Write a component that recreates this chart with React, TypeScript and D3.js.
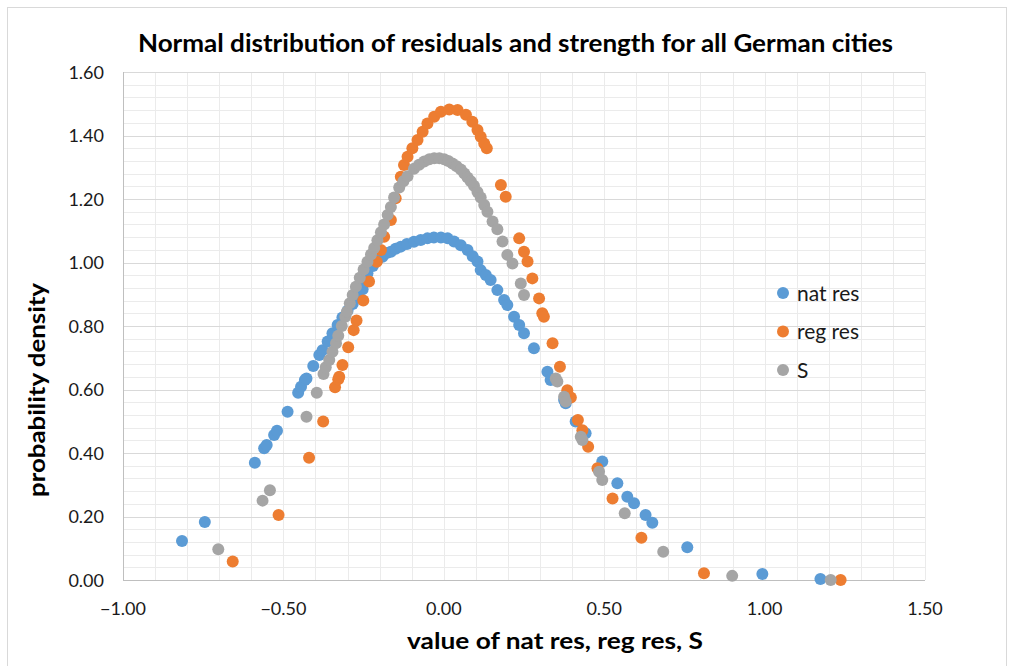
import React, { useEffect, useRef } from "react";
import * as d3 from "d3";

const chartTitle = "Normal distribution of residuals and strength for all German cities";
const xAxisTitle = "value of nat res, reg res, S";
const yAxisTitle = "probability density";

const seriesNames = ["nat res", "reg res", "S"];
const seriesColors = ["#5B9BD5", "#ED7D31", "#A5A5A5"];

const xTicks = [-1, -0.5, 0, 0.5, 1, 1.5];
const yTicks = [0, 0.2, 0.4, 0.6, 0.8, 1.0, 1.2, 1.4, 1.6];

const natResX = [-0.816, -0.745, -0.589, -0.560, -0.552, -0.529, -0.520, -0.487, -0.454, -0.445,
  -0.433, -0.428, -0.407, -0.388, -0.378, -0.362, -0.347, -0.331, -0.316, -0.300,
  -0.284, -0.269, -0.253, -0.246, -0.238, -0.221, -0.207, -0.191, -0.178, -0.165,
  -0.150, -0.134, -0.115, -0.093, -0.072, -0.051, -0.031, -0.009, 0.012, 0.032,
  0.053, 0.074, 0.090, 0.105, 0.115, 0.131, 0.146, 0.167, 0.188, 0.198,
  0.219, 0.235, 0.250, 0.281, 0.323, 0.333, 0.375, 0.380, 0.411, 0.442,
  0.494, 0.541, 0.572, 0.593, 0.629, 0.650, 0.759, 0.993, 1.174];
const natResY = [0.123, 0.183, 0.369, 0.415, 0.425, 0.457, 0.470, 0.530, 0.590, 0.609,
  0.630, 0.635, 0.674, 0.709, 0.724, 0.751, 0.777, 0.803, 0.827, 0.848,
  0.869, 0.892, 0.916, 0.939, 0.966, 0.989, 1.008, 1.018, 1.030, 1.034,
  1.043, 1.050, 1.058, 1.065, 1.071, 1.076, 1.079, 1.079, 1.076, 1.066,
  1.054, 1.039, 1.020, 1.003, 0.976, 0.961, 0.945, 0.913, 0.882, 0.866,
  0.829, 0.803, 0.777, 0.730, 0.656, 0.630, 0.567, 0.557, 0.499, 0.462,
  0.373, 0.305, 0.262, 0.242, 0.205, 0.180, 0.103, 0.019, 0.003];

const regResX = [-0.658, -0.515, -0.420, -0.376, -0.339, -0.329, -0.326, -0.316, -0.298, -0.281,
  -0.272, -0.251, -0.233, -0.209, -0.196, -0.186, -0.165, -0.150, -0.134, -0.124,
  -0.113, -0.098, -0.082, -0.066, -0.051, -0.030, -0.009, 0.017, 0.043, 0.069,
  0.089, 0.105, 0.115, 0.126, 0.134, 0.178, 0.193, 0.235, 0.250, 0.261,
  0.276, 0.297, 0.307, 0.312, 0.339, 0.362, 0.385, 0.396, 0.418, 0.432,
  0.450, 0.479, 0.526, 0.616, 0.811, 1.237];
const regResY = [0.058, 0.205, 0.385, 0.499, 0.607, 0.632, 0.640, 0.677, 0.733, 0.787,
  0.817, 0.880, 0.940, 1.002, 1.039, 1.081, 1.134, 1.202, 1.270, 1.307,
  1.333, 1.360, 1.386, 1.412, 1.438, 1.459, 1.475, 1.482, 1.480, 1.465,
  1.443, 1.417, 1.396, 1.375, 1.360, 1.244, 1.207, 1.076, 1.034, 1.003,
  0.950, 0.887, 0.840, 0.829, 0.746, 0.672, 0.598, 0.575, 0.504, 0.472,
  0.420, 0.352, 0.257, 0.133, 0.021, 0.000];

const sX = [-0.703, -0.565, -0.542, -0.428, -0.396, -0.375, -0.368, -0.357, -0.347, -0.336,
  -0.329, -0.318, -0.307, -0.302, -0.293, -0.284, -0.274, -0.262, -0.250, -0.238,
  -0.227, -0.217, -0.207, -0.196, -0.186, -0.175, -0.165, -0.155, -0.139, -0.126,
  -0.113, -0.093, -0.077, -0.061, -0.045, -0.030, -0.014, 0.001, 0.014, 0.027,
  0.040, 0.053, 0.064, 0.074, 0.084, 0.094, 0.105, 0.115, 0.126, 0.136,
  0.152, 0.167, 0.183, 0.198, 0.214, 0.240, 0.250, 0.349, 0.354, 0.375,
  0.380, 0.427, 0.432, 0.484, 0.494, 0.564, 0.684, 0.899, 1.206];
const sY = [0.097, 0.250, 0.283, 0.514, 0.590, 0.649, 0.670, 0.693, 0.719, 0.746,
  0.769, 0.800, 0.829, 0.845, 0.872, 0.898, 0.924, 0.952, 0.978, 1.002,
  1.025, 1.046, 1.070, 1.095, 1.120, 1.150, 1.175, 1.205, 1.236, 1.256,
  1.272, 1.295, 1.308, 1.318, 1.325, 1.328, 1.328, 1.325, 1.320, 1.312,
  1.303, 1.293, 1.280, 1.268, 1.256, 1.242, 1.222, 1.205, 1.181, 1.160,
  1.129, 1.105, 1.066, 1.024, 0.997, 0.934, 0.898, 0.635, 0.625, 0.577,
  0.562, 0.451, 0.441, 0.341, 0.315, 0.210, 0.089, 0.013, 0.000];

const FONT = "Lato, 'Open Sans', sans-serif";

export default function App() {
  const ref = useRef<SVGSVGElement>(null);

  useEffect(() => {
    const svg = d3.select(ref.current);
    svg.selectAll("*").remove();

    const W = 1014, H = 666;
    const left = 123, right = 925, top = 72, bottom = 580;
    const x = d3.scaleLinear().domain([-1, 1.5]).range([left, right]);
    const y = d3.scaleLinear().domain([0, 1.6]).range([bottom, top]);
    const px = (v: number) => Math.round(v) + 0.5;

    svg.append("rect").attr("width", W).attr("height", H).attr("fill", "#ffffff");
    svg.append("rect").attr("x", 7.5).attr("y", 7.5).attr("width", 999).attr("height", 700)
      .attr("fill", "none").attr("stroke", "#d9d9d9").attr("stroke-width", 1);

    const grid = svg.append("g");
    // minor vertical gridlines every 0.1
    const xMinor = d3.range(0, 26).map((i) => -1 + i * 0.1);
    grid.selectAll("line.vx").data(xMinor).enter().append("line")
      .attr("x1", (d) => px(x(d))).attr("x2", (d) => px(x(d)))
      .attr("y1", top).attr("y2", bottom)
      .attr("stroke", "#ebebeb").attr("stroke-width", 1);
    // minor horizontal gridlines every 0.04
    const yMinor = d3.range(0, 41).map((i) => i * 0.04);
    grid.selectAll("line.hy").data(yMinor).enter().append("line")
      .attr("x1", left).attr("x2", right)
      .attr("y1", (d) => px(y(d))).attr("y2", (d) => px(y(d)))
      .attr("stroke", "#ebebeb").attr("stroke-width", 1);
    // major horizontal gridlines
    grid.selectAll("line.hmaj").data(yTicks).enter().append("line")
      .attr("x1", left).attr("x2", right)
      .attr("y1", (d) => px(y(d))).attr("y2", (d) => px(y(d)))
      .attr("stroke", "#d9d9d9").attr("stroke-width", 1);

    // axis lines
    svg.append("line").attr("x1", px(left)).attr("x2", px(left)).attr("y1", top).attr("y2", px(bottom))
      .attr("stroke", "#bfbfbf");
    svg.append("line").attr("x1", left).attr("x2", right).attr("y1", px(bottom)).attr("y2", px(bottom))
      .attr("stroke", "#bfbfbf");

    // tick labels
    svg.append("g").selectAll("text").data(yTicks).enter().append("text")
      .attr("x", 104).attr("y", (d) => y(d) + 6.5)
      .attr("text-anchor", "end")
      .attr("font-family", FONT).attr("font-size", 18).attr("fill", "#1a1a1a")
      .text((d) => d3.format(".2f")(d));
    svg.append("g").selectAll("text").data(xTicks).enter().append("text")
      .attr("x", (d) => x(d)).attr("y", 615)
      .attr("text-anchor", "middle")
      .attr("font-family", FONT).attr("font-size", 18).attr("fill", "#1a1a1a")
      .text((d) => d3.format(".2f")(d));

    // series
    const series = [
      d3.zip(natResX, natResY),
      d3.zip(regResX, regResY),
      d3.zip(sX, sY),
    ];
    series.forEach((pts, i) => {
      svg.append("g").selectAll("circle").data(pts).enter().append("circle")
        .attr("cx", (d) => x(d[0])).attr("cy", (d) => y(d[1]))
        .attr("r", 6).attr("fill", seriesColors[i]);
    });

    // legend
    const lg = svg.append("g");
    seriesNames.forEach((name, i) => {
      const cy = 293 + i * 38.5;
      lg.append("circle").attr("cx", 783).attr("cy", cy).attr("r", 6).attr("fill", seriesColors[i]);
      lg.append("text").attr("x", 797).attr("y", cy + 7.5)
        .attr("font-family", FONT).attr("font-size", 21).attr("fill", "#1a1a1a")
        .text(name);
    });

    // titles
    svg.append("text").attr("x", 515.5).attr("y", 52).attr("text-anchor", "middle")
      .attr("font-family", FONT).attr("font-weight", "bold").attr("font-size", 24)
      .attr("textLength", 755).attr("lengthAdjust", "spacingAndGlyphs")
      .attr("fill", "#000").text(chartTitle);
    svg.append("text").attr("x", 555).attr("y", 649).attr("text-anchor", "middle")
      .attr("font-family", FONT).attr("font-weight", "bold").attr("font-size", 22)
      .attr("textLength", 296).attr("lengthAdjust", "spacingAndGlyphs")
      .attr("fill", "#000").text(xAxisTitle);
    svg.append("text").attr("transform", "translate(45,390) rotate(-90)")
      .attr("text-anchor", "middle")
      .attr("font-family", FONT).attr("font-weight", "bold").attr("font-size", 22)
      .attr("textLength", 214).attr("lengthAdjust", "spacingAndGlyphs")
      .attr("fill", "#000").text(yAxisTitle);
  }, []);

  return (
    <svg ref={ref} width={1014} height={666}
      style={{ position: "absolute", left: 0, top: 0, display: "block" }} />
  );
}
